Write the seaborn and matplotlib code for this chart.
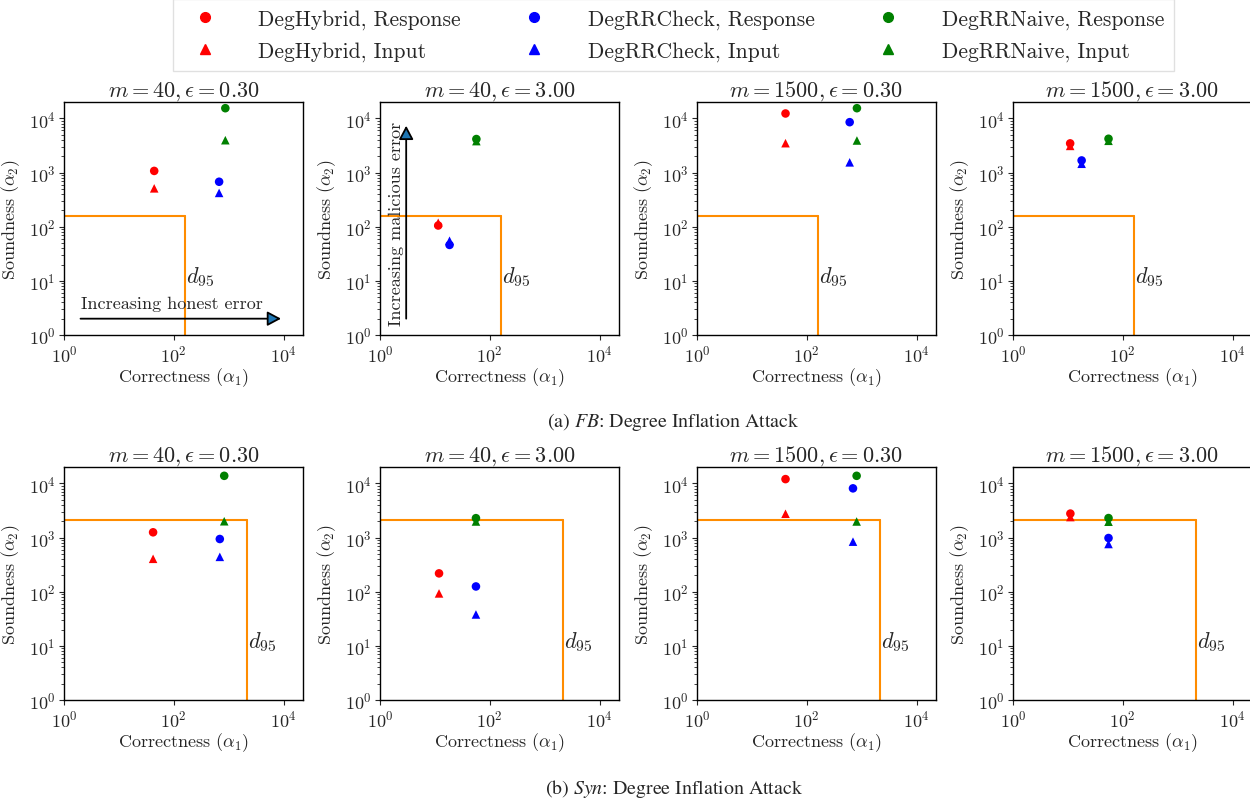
import pandas as pd
import matplotlib.pyplot as plt
import seaborn as sns
from matplotlib.lines import Line2D
from matplotlib.ticker import NullLocator

# -------------------------
# DATA
# -------------------------
methods = ["DegHybrid", "DegRRCheck", "DegRRNaive"]
colors = {"DegHybrid": "red", "DegRRCheck": "blue", "DegRRNaive": "green"}
titles = [r"$m = 40, \epsilon = 0.30$", r"$m = 40, \epsilon = 3.00$",
          r"$m = 1500, \epsilon = 0.30$", r"$m = 1500, \epsilon = 3.00$"]

# correctness (alpha_1) per panel, one value per method
fb_x = [[44, 670, 870], [11.5, 18.5, 57], [41, 605, 820], [11, 17.8, 55]]
fb_resp = [[1070, 675, 15400], [105, 46, 4150], [12300, 8500, 15400], [3450, 1670, 4200]]
fb_input = [[510, 420, 3950], [118, 55, 3800], [3480, 1540, 3900], [3100, 1450, 3850]]
fb_d95 = 157

syn_x = [[42, 690, 830], [11.9, 56, 56], [41, 695, 810], [11.1, 55, 55]]
syn_resp = [[1250, 940, 13800], [218, 125, 2280], [12000, 8100, 13800], [2770, 980, 2290]]
syn_input = [[405, 440, 2000], [93, 38, 1980], [2750, 840, 1980], [2390, 760, 1960]]
syn_d95 = 2150

# -------------------------
# STYLE
# -------------------------
sns.set_style("ticks")
plt.rcParams["font.family"] = ["cmr10"]
plt.rcParams["mathtext.fontset"] = "cm"
plt.rcParams["axes.formatter.use_mathtext"] = True
plt.rcParams["axes.unicode_minus"] = False

fig = plt.figure(figsize=(12.5, 8.03), dpi=100)

lefts = [0.0512, 0.304, 0.5576, 0.8104]
rows = [(0.5816, fb_x, fb_resp, fb_input, fb_d95),
        (0.127, syn_x, syn_resp, syn_input, syn_d95)]

axes_grid = []
for bottom, xs, resp, inp, d95 in rows:
    row_axes = []
    for i, left in enumerate(lefts):
        ax = fig.add_axes([left, bottom, 0.191, 0.290])
        df = pd.DataFrame({
            "x": xs[i] + xs[i],
            "y": resp[i] + inp[i],
            "method": methods + methods,
            "kind": ["Response"] * 3 + ["Input"] * 3,
        })
        sns.scatterplot(data=df, x="x", y="y", hue="method", style="kind",
                        palette=colors, markers={"Response": "o", "Input": "^"},
                        s=38, linewidth=0, legend=False, ax=ax, zorder=3)
        ax.set_xscale("log")
        ax.set_yscale("log")
        ax.set_xlim(1, 10 ** 4.35)
        ax.set_ylim(1, 10 ** 4.3)
        ax.set_xticks([1, 100, 10000])
        ax.xaxis.set_minor_locator(NullLocator())
        ax.set_yticks([1, 10, 100, 1000, 10000])

        # d95 box
        ax.plot([1, d95], [d95, d95], color="darkorange", lw=1.5)
        ax.plot([d95, d95], [1, d95], color="darkorange", lw=1.5)
        ax.text(d95 * 1.06, 12.3, r"$d_{95}$", fontsize=16, ha="left", va="center")

        ax.set_title(titles[i], fontsize=16, pad=4)
        ax.set_xlabel(r"Correctness ($\alpha_1$)", fontsize=13, labelpad=1)
        ax.set_ylabel(r"Soundness ($\alpha_2$)", fontsize=13, labelpad=5)
        ax.tick_params(labelsize=13, which="major", length=3.5, width=0.8, pad=2.5)
        ax.tick_params(which="minor", length=2, width=0.6)
        for sp in ax.spines.values():
            sp.set_color("black")
            sp.set_linewidth(1.0)
        row_axes.append(ax)
    axes_grid.append(row_axes)

# annotation arrows
arrow_kw = dict(arrowstyle="-|>,head_length=0.75,head_width=0.4",
                mutation_scale=11, fc="tab:blue", ec="black",
                lw=1.3, shrinkA=0, shrinkB=0)
ax = axes_grid[0][0]
ax.annotate("", xy=(9000, 2), xytext=(2, 2), arrowprops=arrow_kw)
ax.text(2, 3.9, "Increasing honest error", fontsize=13, ha="left", va="center")

ax = axes_grid[0][1]
ax.annotate("", xy=(3, 7300), xytext=(3, 2), arrowprops=arrow_kw)
ax.text(1.95, 120, "Increasing malicious error", fontsize=13, rotation=90,
        ha="center", va="center")

# legend
handles = []
labels = []
for m in methods:
    for kind, mk in [("Response", "o"), ("Input", "^")]:
        handles.append(Line2D([], [], marker=mk, color=colors[m], linestyle="none",
                              markersize=7))
        labels.append(f"{m}, {kind}")
leg = fig.legend(handles, labels, loc="upper center", bbox_to_anchor=(0.539, 1.0),
                 ncol=3, fontsize=15.5, frameon=True, labelspacing=0.6,
                 columnspacing=2.4, handlelength=2.0, handletextpad=1.5,
                 borderpad=0.45, borderaxespad=0, fancybox=False)
leg.get_frame().set_edgecolor("0.85")

# captions
fig.text(0.539, 0.474, r"(a) $\mathit{FB}$: Degree Inflation Attack", fontsize=14.3,
         family="STIXGeneral", math_fontfamily="stix", ha="center", va="center")
fig.text(0.539, 0.018, r"(b) $\mathit{Syn}$: Degree Inflation Attack", fontsize=14.3,
         family="STIXGeneral", math_fontfamily="stix", ha="center", va="center")

fig.savefig("out.png", dpi=100)
